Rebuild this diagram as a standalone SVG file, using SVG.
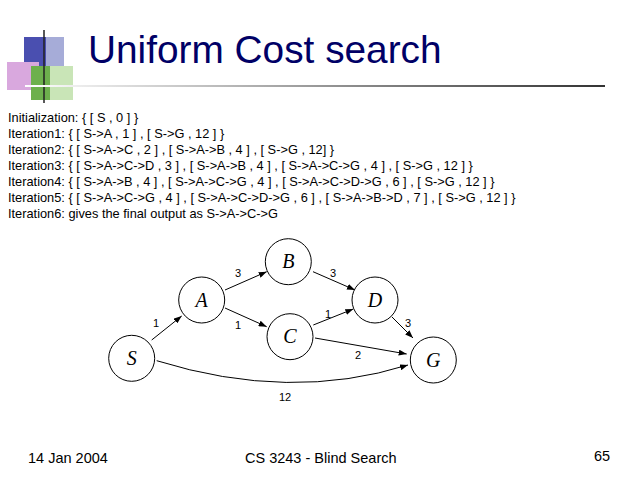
<svg xmlns="http://www.w3.org/2000/svg" width="638" height="479" viewBox="0 0 638 479">
<defs>
<linearGradient id="ln" x1="0" x2="1"><stop offset="0" stop-color="#fff"/><stop offset="1" stop-color="#333"/></linearGradient>
<marker id="ar" markerWidth="8" markerHeight="6" refX="8" refY="3" orient="auto" markerUnits="userSpaceOnUse"><path d="M0,0 L8,3 L0,6 z" fill="#000"/></marker>
<style>
.t{font-family:"Liberation Sans",Arial,sans-serif;font-size:12.8px;fill:#000}
.f{font-family:"Liberation Sans",Arial,sans-serif;font-size:14.5px;fill:#000}
.n circle{fill:#fff;stroke:#000;stroke-width:1}
.n text{font-family:"Liberation Serif",serif;font-style:italic;font-size:20px;text-anchor:middle}
.e{stroke:#000;stroke-width:1;fill:none;marker-end:url(#ar)}
.l{font-family:"Liberation Sans",Arial,sans-serif;font-size:11px;text-anchor:middle}
</style>
</defs>
<rect width="638" height="479" fill="#fff"/>
<g id="logo">
<rect x="24" y="37" width="28" height="40" fill="#4a4fb0"/>
<rect x="46" y="37" width="18" height="40" fill="#a6acd8"/>
<rect x="7" y="62" width="32" height="28" fill="#d9a8de"/>
<rect x="31" y="66" width="42" height="34" fill="#6db04d"/>
<rect x="50" y="66" width="23" height="34" fill="#c9e5b7"/>
<line x1="44" y1="30" x2="44" y2="103" stroke="#222" stroke-width="1.5"/>
<rect x="25" y="85" width="580" height="2" fill="url(#ln)"/>
</g>
<text x="88" y="63" font-family="Liberation Sans,Arial,sans-serif" font-size="38.8" fill="#000066">Uniform Cost search</text>
<g id="text">
<text class="t" x="8" y="122">Initialization: { [ S , 0 ] }</text>
<text class="t" x="8" y="138">Iteration1: { [ S-&gt;A , 1 ] , [ S-&gt;G , 12 ] }</text>
<text class="t" x="8" y="154">Iteration2: { [ S-&gt;A-&gt;C , 2 ] , [ S-&gt;A-&gt;B , 4 ] , [ S-&gt;G , 12] }</text>
<text class="t" x="8" y="170">Iteration3: { [ S-&gt;A-&gt;C-&gt;D , 3 ] , [ S-&gt;A-&gt;B , 4 ] , [ S-&gt;A-&gt;C-&gt;G , 4 ] , [ S-&gt;G , 12 ] }</text>
<text class="t" x="8" y="186">Iteration4: { [ S-&gt;A-&gt;B , 4 ] , [ S-&gt;A-&gt;C-&gt;G , 4 ] , [ S-&gt;A-&gt;C-&gt;D-&gt;G , 6 ] , [ S-&gt;G , 12 ] }</text>
<text class="t" x="8" y="202">Iteration5: { [ S-&gt;A-&gt;C-&gt;G , 4 ] , [ S-&gt;A-&gt;C-&gt;D-&gt;G , 6 ] , [ S-&gt;A-&gt;B-&gt;D , 7 ] , [ S-&gt;G , 12 ] }</text>
<text class="t" x="8" y="218">Iteration6: gives the final output as S-&gt;A-&gt;C-&gt;G</text>
</g>
<g id="connectors">
<line class="e" x1="151.7" y1="340" x2="181.7" y2="316"/>
<line class="e" x1="225" y1="290" x2="266.7" y2="271.7"/>
<line class="e" x1="313" y1="271.7" x2="355" y2="290"/>
<line class="e" x1="225" y1="308" x2="266.7" y2="326.7"/>
<line class="e" x1="313.3" y1="325" x2="353.3" y2="309"/>
<line class="e" x1="315" y1="338" x2="406.7" y2="354"/>
<line class="e" x1="391.7" y1="316.7" x2="413" y2="338"/>
<path class="e" d="M156.7,360.7 Q290,402 408,365"/>
<text class="l" x="156" y="327">1</text>
<text class="l" x="238" y="277">3</text>
<text class="l" x="238" y="329">1</text>
<text class="l" x="333" y="277">3</text>
<text class="l" x="328" y="318">1</text>
<text class="l" x="408" y="327">3</text>
<text class="l" x="358" y="359">2</text>
<text class="l" x="285" y="401">12</text>
</g>
<g id="S" class="n"><circle cx="131.7" cy="358.3" r="23"/><text x="131.7" y="365">S</text></g>
<g id="A" class="n"><circle cx="201.7" cy="300" r="23"/><text x="201.7" y="307">A</text></g>
<g id="B" class="n"><circle cx="288.3" cy="261.7" r="23"/><text x="288.3" y="268">B</text></g>
<g id="C" class="n"><circle cx="290" cy="336.7" r="23"/><text x="290" y="343">C</text></g>
<g id="D" class="n"><circle cx="375" cy="300" r="23"/><text x="375" y="307">D</text></g>
<g id="G" class="n"><circle cx="433.3" cy="360" r="23"/><text x="433.3" y="367">G</text></g>
<g id="footer">
<text class="f" x="28" y="463">14 Jan 2004</text>
<text class="f" x="245" y="463">CS 3243 - Blind Search</text>
<text class="f" x="594" y="461">65</text>
</g>
</svg>
